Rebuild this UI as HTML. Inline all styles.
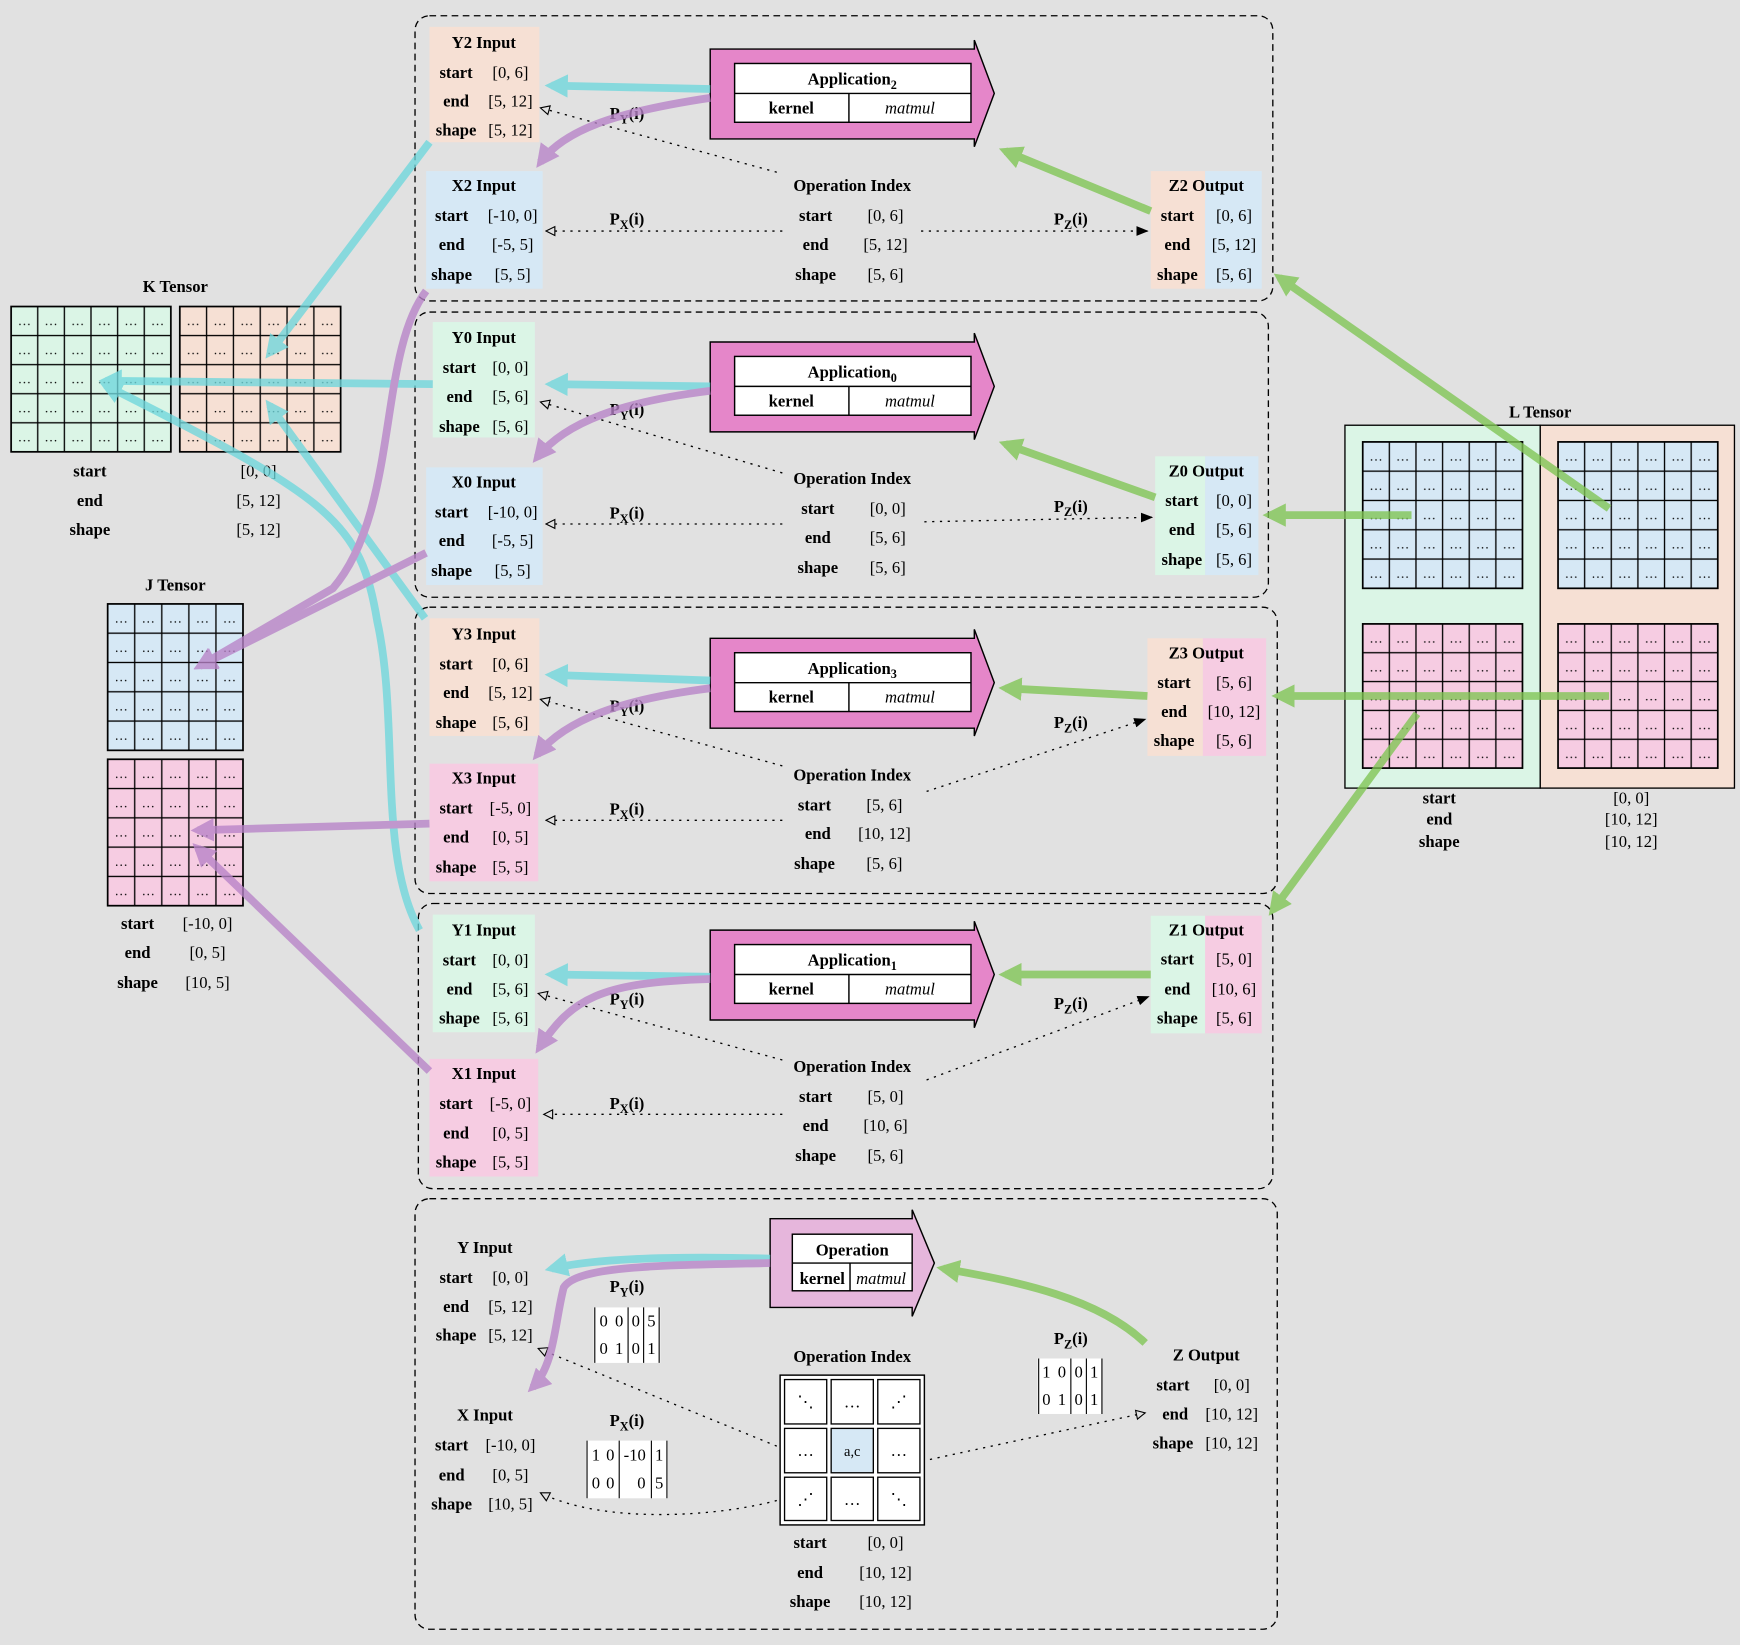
<!DOCTYPE html>
<html><head><meta charset="utf-8"><style>
html,body{margin:0;padding:0;background:#e1e1e1;}
svg{display:block;font-family:"Liberation Serif",serif;}
.b{font-weight:bold;font-size:15px;}
.v{font-size:15px;}
.t{font-weight:bold;font-size:15px;}
.d{font-size:12px;}
</style></head><body>
<svg width="1740" height="1645" viewBox="0 0 1568 1482" xmlns="http://www.w3.org/2000/svg">
<defs>
<marker id="mc" viewBox="0 0 10 10" refX="7" refY="5" markerWidth="3" markerHeight="3" orient="auto"><path d="M0,0 L10,5 L0,10 z" fill="#6fd7dc"/></marker>
<marker id="mp" viewBox="0 0 10 10" refX="7" refY="5" markerWidth="3" markerHeight="3" orient="auto"><path d="M0,0 L10,5 L0,10 z" fill="#b883c8"/></marker>
<marker id="mg" viewBox="0 0 10 10" refX="7" refY="5" markerWidth="3" markerHeight="3" orient="auto"><path d="M0,0 L10,5 L0,10 z" fill="#7fc553"/></marker>
<marker id="mo" viewBox="0 0 10 10" refX="9" refY="5" markerWidth="10" markerHeight="10" markerUnits="userSpaceOnUse" orient="auto"><path d="M1,1 L9,5 L1,9 z" fill="#e1e1e1" stroke="#000" stroke-width="1"/></marker>
<marker id="mb" viewBox="0 0 10 10" refX="9" refY="5" markerWidth="11" markerHeight="11" markerUnits="userSpaceOnUse" orient="auto"><path d="M0,1 L10,5 L0,9 z" fill="#000"/></marker>
<pattern id="pK1" x="10" y="276" width="24" height="26.2" patternUnits="userSpaceOnUse"><rect width="24" height="26.2" fill="none" stroke="#000" stroke-width="1.2"/><text x="12" y="17" font-size="12" text-anchor="middle">…</text></pattern>
<pattern id="pK2" x="162" y="276" width="24.17" height="26.2" patternUnits="userSpaceOnUse"><rect width="24.17" height="26.2" fill="none" stroke="#000" stroke-width="1.2"/><text x="12" y="17" font-size="12" text-anchor="middle">…</text></pattern>
<pattern id="pJ1" x="97" y="544" width="24.4" height="26.4" patternUnits="userSpaceOnUse"><rect width="24.4" height="26.4" fill="none" stroke="#000" stroke-width="1.2"/><text x="12.2" y="17" font-size="12" text-anchor="middle">…</text></pattern>
<pattern id="pJ2" x="97" y="684" width="24.4" height="26.4" patternUnits="userSpaceOnUse"><rect width="24.4" height="26.4" fill="none" stroke="#000" stroke-width="1.2"/><text x="12.2" y="17" font-size="12" text-anchor="middle">…</text></pattern>
<pattern id="pL1" x="1228" y="398" width="24" height="26.4" patternUnits="userSpaceOnUse"><rect width="24" height="26.4" fill="none" stroke="#000" stroke-width="1.2"/><text x="12" y="17" font-size="12" text-anchor="middle">…</text></pattern>
<pattern id="pL2" x="1404" y="398" width="24" height="26.4" patternUnits="userSpaceOnUse"><rect width="24" height="26.4" fill="none" stroke="#000" stroke-width="1.2"/><text x="12" y="17" font-size="12" text-anchor="middle">…</text></pattern>
<pattern id="pL3" x="1228" y="562" width="24" height="26" patternUnits="userSpaceOnUse"><rect width="24" height="26" fill="none" stroke="#000" stroke-width="1.2"/><text x="12" y="17" font-size="12" text-anchor="middle">…</text></pattern>
<pattern id="pL4" x="1404" y="562" width="24" height="26" patternUnits="userSpaceOnUse"><rect width="24" height="26" fill="none" stroke="#000" stroke-width="1.2"/><text x="12" y="17" font-size="12" text-anchor="middle">…</text></pattern>
</defs>
<rect width="1568" height="1482" fill="#e1e1e1"/>

<!-- panels -->
<g fill="none" stroke="#000" stroke-width="1.2" stroke-dasharray="6,4">
<rect x="374" y="14" width="773" height="257" rx="13"/>
<rect x="374" y="281" width="769" height="257" rx="13"/>
<rect x="374" y="547" width="777" height="258" rx="13"/>
<rect x="377" y="814" width="770" height="257" rx="13"/>
<rect x="374" y="1080" width="777" height="388" rx="13"/>
</g>

<!-- K tensor -->
<text class="t" x="158" y="263" text-anchor="middle">K Tensor</text>
<rect x="10" y="276" width="144" height="131" fill="#dbf5e6"/>
<rect x="10" y="276" width="144" height="131" fill="url(#pK1)" stroke="#000" stroke-width="1.5"/>
<rect x="162" y="276" width="145" height="131" fill="#f6e0d4"/>
<rect x="162" y="276" width="145" height="131" fill="url(#pK2)" stroke="#000" stroke-width="1.5"/>
<g text-anchor="middle"><text class="b" x="81" y="429">start</text><text class="b" x="81" y="456">end</text><text class="b" x="81" y="482">shape</text>
<text class="v" x="233" y="429">[0, 0]</text><text class="v" x="233" y="456">[5, 12]</text><text class="v" x="233" y="482">[5, 12]</text></g>

<!-- J tensor -->
<text class="t" x="158" y="532" text-anchor="middle">J Tensor</text>
<rect x="97" y="544" width="122" height="132" fill="#d6e8f5"/>
<rect x="97" y="544" width="122" height="132" fill="url(#pJ1)" stroke="#000" stroke-width="1.5"/>
<rect x="97" y="684" width="122" height="132" fill="#f6cce2"/>
<rect x="97" y="684" width="122" height="132" fill="url(#pJ2)" stroke="#000" stroke-width="1.5"/>
<g text-anchor="middle"><text class="b" x="124" y="837">start</text><text class="b" x="124" y="863">end</text><text class="b" x="124" y="890">shape</text>
<text class="v" x="187" y="837">[-10, 0]</text><text class="v" x="187" y="863">[0, 5]</text><text class="v" x="187" y="890">[10, 5]</text></g>

<!-- L tensor -->
<text class="t" x="1388" y="376" text-anchor="middle">L Tensor</text>
<rect x="1212" y="383" width="176" height="327" fill="#dbf5e6" stroke="#000" stroke-width="1.2"/>
<rect x="1388" y="383" width="175" height="327" fill="#f6e0d4" stroke="#000" stroke-width="1.2"/>
<rect x="1228" y="398" width="144" height="132" fill="#d6e8f5"/>
<rect x="1228" y="398" width="144" height="132" fill="url(#pL1)" stroke="#000" stroke-width="1.5"/>
<rect x="1404" y="398" width="144" height="132" fill="#d6e8f5"/>
<rect x="1404" y="398" width="144" height="132" fill="url(#pL2)" stroke="#000" stroke-width="1.5"/>
<rect x="1228" y="562" width="144" height="130" fill="#f6cce2"/>
<rect x="1228" y="562" width="144" height="130" fill="url(#pL3)" stroke="#000" stroke-width="1.5"/>
<rect x="1404" y="562" width="144" height="130" fill="#f6cce2"/>
<rect x="1404" y="562" width="144" height="130" fill="url(#pL4)" stroke="#000" stroke-width="1.5"/>
<g text-anchor="middle"><text class="b" x="1297" y="724">start</text><text class="b" x="1297" y="743">end</text><text class="b" x="1297" y="763">shape</text>
<text class="v" x="1470" y="724">[0, 0]</text><text class="v" x="1470" y="743">[10, 12]</text><text class="v" x="1470" y="763">[10, 12]</text></g>

<!-- P2 -->
<g>
<rect x="387" y="24" width="99" height="104" fill="#f6e0d4"/>
<g text-anchor="middle"><text class="b" x="436" y="43">Y2 Input</text>
<text class="b" x="411" y="70">start</text><text class="b" x="411" y="96">end</text><text class="b" x="411" y="122">shape</text>
<text class="v" x="460" y="70">[0, 6]</text><text class="v" x="460" y="96">[5, 12]</text><text class="v" x="460" y="122">[5, 12]</text></g>
<rect x="384" y="154" width="105" height="106" fill="#d6e8f5"/>
<g text-anchor="middle"><text class="b" x="436" y="172">X2 Input</text>
<text class="b" x="407" y="199">start</text><text class="b" x="407" y="225">end</text><text class="b" x="407" y="252">shape</text>
<text class="v" x="462" y="199">[-10, 0]</text><text class="v" x="462" y="225">[-5, 5]</text><text class="v" x="462" y="252">[5, 5]</text></g>
<rect x="1037" y="154" width="49" height="106" fill="#f6e0d4"/><rect x="1086" y="154" width="51" height="106" fill="#d6e8f5"/>
<g text-anchor="middle"><text class="b" x="1087" y="172">Z2 Output</text>
<text class="b" x="1061" y="199">start</text><text class="b" x="1061" y="225">end</text><text class="b" x="1061" y="252">shape</text>
<text class="v" x="1112" y="199">[0, 6]</text><text class="v" x="1112" y="225">[5, 12]</text><text class="v" x="1112" y="252">[5, 6]</text>
<text class="b" x="768" y="172">Operation Index</text>
<text class="b" x="735" y="199">start</text><text class="b" x="735" y="225">end</text><text class="b" x="735" y="252">shape</text>
<text class="v" x="798" y="199">[0, 6]</text><text class="v" x="798" y="225">[5, 12]</text><text class="v" x="798" y="252">[5, 6]</text></g>
<g fill="none" stroke="#000" stroke-width="1.2" stroke-dasharray="2,5">
<path d="M705,208H492" marker-end="url(#mo)"/><path d="M830,208H1034" marker-end="url(#mb)"/><path d="M700,155L487,97" marker-end="url(#mo)"/></g>
<text class="b" x="565" y="107" text-anchor="middle">P<tspan font-size="11" dy="4">Y</tspan><tspan dy="-4">(i)</tspan></text>
<text class="b" x="565" y="202" text-anchor="middle">P<tspan font-size="11" dy="4">X</tspan><tspan dy="-4">(i)</tspan></text>
<text class="b" x="965" y="202" text-anchor="middle">P<tspan font-size="11" dy="4">Z</tspan><tspan dy="-4">(i)</tspan></text>
</g>
<g>
<polygon points="640,44 878,44 878,36 896,84 878,132 878,125 640,125" fill="#e586c9" stroke="#000" stroke-width="1.3"/>
<rect x="662" y="57" width="213" height="53" fill="#fff" stroke="#000" stroke-width="1.3"/>
<path d="M662,84H875M765,84V110" stroke="#000" stroke-width="1.3"/>
<text class="b" x="768" y="76" text-anchor="middle">Application<tspan font-size="11" dy="4">2</tspan></text>
<text class="b" x="713" y="102" text-anchor="middle">kernel</text>
<text class="v" x="820" y="102" text-anchor="middle" font-style="italic">matmul</text>
</g>

<!-- P0 -->
<g>
<rect x="390" y="290" width="92" height="104" fill="#dbf5e6"/>
<g text-anchor="middle"><text class="b" x="436" y="309">Y0 Input</text>
<text class="b" x="414" y="336">start</text><text class="b" x="414" y="362">end</text><text class="b" x="414" y="389">shape</text>
<text class="v" x="460" y="336">[0, 0]</text><text class="v" x="460" y="362">[5, 6]</text><text class="v" x="460" y="389">[5, 6]</text></g>
<rect x="384" y="421" width="105" height="106" fill="#d6e8f5"/>
<g text-anchor="middle"><text class="b" x="436" y="439">X0 Input</text>
<text class="b" x="407" y="466">start</text><text class="b" x="407" y="492">end</text><text class="b" x="407" y="519">shape</text>
<text class="v" x="462" y="466">[-10, 0]</text><text class="v" x="462" y="492">[-5, 5]</text><text class="v" x="462" y="519">[5, 5]</text></g>
<rect x="1041" y="411" width="45" height="107" fill="#dbf5e6"/><rect x="1086" y="411" width="48" height="107" fill="#d6e8f5"/>
<g text-anchor="middle"><text class="b" x="1087" y="429">Z0 Output</text>
<text class="b" x="1065" y="456">start</text><text class="b" x="1065" y="482">end</text><text class="b" x="1065" y="509">shape</text>
<text class="v" x="1112" y="456">[0, 0]</text><text class="v" x="1112" y="482">[5, 6]</text><text class="v" x="1112" y="509">[5, 6]</text>
<text class="b" x="768" y="436">Operation Index</text>
<text class="b" x="737" y="463">start</text><text class="b" x="737" y="489">end</text><text class="b" x="737" y="516">shape</text>
<text class="v" x="800" y="463">[0, 0]</text><text class="v" x="800" y="489">[5, 6]</text><text class="v" x="800" y="516">[5, 6]</text></g>
<g fill="none" stroke="#000" stroke-width="1.2" stroke-dasharray="2,5">
<path d="M705,472H492" marker-end="url(#mo)"/><path d="M833,470L1038,466" marker-end="url(#mb)"/><path d="M705,426L487,362" marker-end="url(#mo)"/></g>
<text class="b" x="565" y="374" text-anchor="middle">P<tspan font-size="11" dy="4">Y</tspan><tspan dy="-4">(i)</tspan></text>
<text class="b" x="565" y="467" text-anchor="middle">P<tspan font-size="11" dy="4">X</tspan><tspan dy="-4">(i)</tspan></text>
<text class="b" x="965" y="461" text-anchor="middle">P<tspan font-size="11" dy="4">Z</tspan><tspan dy="-4">(i)</tspan></text>
<g transform="translate(0,264)">
<polygon points="640,44 878,44 878,36 896,84 878,132 878,125 640,125" fill="#e586c9" stroke="#000" stroke-width="1.3"/>
<rect x="662" y="57" width="213" height="53" fill="#fff" stroke="#000" stroke-width="1.3"/>
<path d="M662,84H875M765,84V110" stroke="#000" stroke-width="1.3"/>
<text class="b" x="768" y="76" text-anchor="middle">Application<tspan font-size="11" dy="4">0</tspan></text>
<text class="b" x="713" y="102" text-anchor="middle">kernel</text>
<text class="v" x="820" y="102" text-anchor="middle" font-style="italic">matmul</text>
</g>
</g>

<!-- P3 -->
<g>
<rect x="387" y="557" width="99" height="106" fill="#f6e0d4"/>
<g text-anchor="middle"><text class="b" x="436" y="576">Y3 Input</text>
<text class="b" x="411" y="603">start</text><text class="b" x="411" y="629">end</text><text class="b" x="411" y="656">shape</text>
<text class="v" x="460" y="603">[0, 6]</text><text class="v" x="460" y="629">[5, 12]</text><text class="v" x="460" y="656">[5, 6]</text></g>
<rect x="387" y="688" width="98" height="106" fill="#f6cce2"/>
<g text-anchor="middle"><text class="b" x="436" y="706">X3 Input</text>
<text class="b" x="411" y="733">start</text><text class="b" x="411" y="759">end</text><text class="b" x="411" y="786">shape</text>
<text class="v" x="460" y="733">[-5, 0]</text><text class="v" x="460" y="759">[0, 5]</text><text class="v" x="460" y="786">[5, 5]</text></g>
<rect x="1034" y="575" width="50" height="106" fill="#f6e0d4"/><rect x="1084" y="575" width="57" height="106" fill="#f6cce2"/>
<g text-anchor="middle"><text class="b" x="1087" y="593">Z3 Output</text>
<text class="b" x="1058" y="620">start</text><text class="b" x="1058" y="646">end</text><text class="b" x="1058" y="672">shape</text>
<text class="v" x="1112" y="620">[5, 6]</text><text class="v" x="1112" y="646">[10, 12]</text><text class="v" x="1112" y="672">[5, 6]</text>
<text class="b" x="768" y="703">Operation Index</text>
<text class="b" x="734" y="730">start</text><text class="b" x="737" y="756">end</text><text class="b" x="734" y="783">shape</text>
<text class="v" x="797" y="730">[5, 6]</text><text class="v" x="797" y="756">[10, 12]</text><text class="v" x="797" y="783">[5, 6]</text></g>
<g fill="none" stroke="#000" stroke-width="1.2" stroke-dasharray="2,5">
<path d="M705,739H492" marker-end="url(#mo)"/><path d="M835,713L1032,648" marker-end="url(#mb)"/><path d="M705,690L487,630" marker-end="url(#mo)"/></g>
<text class="b" x="565" y="641" text-anchor="middle">P<tspan font-size="11" dy="4">Y</tspan><tspan dy="-4">(i)</tspan></text>
<text class="b" x="565" y="734" text-anchor="middle">P<tspan font-size="11" dy="4">X</tspan><tspan dy="-4">(i)</tspan></text>
<text class="b" x="965" y="656" text-anchor="middle">P<tspan font-size="11" dy="4">Z</tspan><tspan dy="-4">(i)</tspan></text>
<g transform="translate(0,531)">
<polygon points="640,44 878,44 878,36 896,84 878,132 878,125 640,125" fill="#e586c9" stroke="#000" stroke-width="1.3"/>
<rect x="662" y="57" width="213" height="53" fill="#fff" stroke="#000" stroke-width="1.3"/>
<path d="M662,84H875M765,84V110" stroke="#000" stroke-width="1.3"/>
<text class="b" x="768" y="76" text-anchor="middle">Application<tspan font-size="11" dy="4">3</tspan></text>
<text class="b" x="713" y="102" text-anchor="middle">kernel</text>
<text class="v" x="820" y="102" text-anchor="middle" font-style="italic">matmul</text>
</g>
</g>

<!-- P1 -->
<g>
<rect x="390" y="824" width="92" height="106" fill="#dbf5e6"/>
<g text-anchor="middle"><text class="b" x="436" y="843">Y1 Input</text>
<text class="b" x="414" y="870">start</text><text class="b" x="414" y="896">end</text><text class="b" x="414" y="922">shape</text>
<text class="v" x="460" y="870">[0, 0]</text><text class="v" x="460" y="896">[5, 6]</text><text class="v" x="460" y="922">[5, 6]</text></g>
<rect x="387" y="954" width="98" height="106" fill="#f6cce2"/>
<g text-anchor="middle"><text class="b" x="436" y="972">X1 Input</text>
<text class="b" x="411" y="999">start</text><text class="b" x="411" y="1026">end</text><text class="b" x="411" y="1052">shape</text>
<text class="v" x="460" y="999">[-5, 0]</text><text class="v" x="460" y="1026">[0, 5]</text><text class="v" x="460" y="1052">[5, 5]</text></g>
<rect x="1037" y="825" width="49" height="106" fill="#dbf5e6"/><rect x="1086" y="825" width="51" height="106" fill="#f6cce2"/>
<g text-anchor="middle"><text class="b" x="1087" y="843">Z1 Output</text>
<text class="b" x="1061" y="869">start</text><text class="b" x="1061" y="896">end</text><text class="b" x="1061" y="922">shape</text>
<text class="v" x="1112" y="869">[5, 0]</text><text class="v" x="1112" y="896">[10, 6]</text><text class="v" x="1112" y="922">[5, 6]</text>
<text class="b" x="768" y="966">Operation Index</text>
<text class="b" x="735" y="993">start</text><text class="b" x="735" y="1019">end</text><text class="b" x="735" y="1046">shape</text>
<text class="v" x="798" y="993">[5, 0]</text><text class="v" x="798" y="1019">[10, 6]</text><text class="v" x="798" y="1046">[5, 6]</text></g>
<g fill="none" stroke="#000" stroke-width="1.2" stroke-dasharray="2,5">
<path d="M705,1004H490" marker-end="url(#mo)"/><path d="M835,973L1035,898" marker-end="url(#mb)"/><path d="M705,955L485,895" marker-end="url(#mo)"/></g>
<text class="b" x="565" y="905" text-anchor="middle">P<tspan font-size="11" dy="4">Y</tspan><tspan dy="-4">(i)</tspan></text>
<text class="b" x="565" y="999" text-anchor="middle">P<tspan font-size="11" dy="4">X</tspan><tspan dy="-4">(i)</tspan></text>
<text class="b" x="965" y="909" text-anchor="middle">P<tspan font-size="11" dy="4">Z</tspan><tspan dy="-4">(i)</tspan></text>
<g transform="translate(0,794)">
<polygon points="640,44 878,44 878,36 896,84 878,132 878,125 640,125" fill="#e586c9" stroke="#000" stroke-width="1.3"/>
<rect x="662" y="57" width="213" height="53" fill="#fff" stroke="#000" stroke-width="1.3"/>
<path d="M662,84H875M765,84V110" stroke="#000" stroke-width="1.3"/>
<text class="b" x="768" y="76" text-anchor="middle">Application<tspan font-size="11" dy="4">1</tspan></text>
<text class="b" x="713" y="102" text-anchor="middle">kernel</text>
<text class="v" x="820" y="102" text-anchor="middle" font-style="italic">matmul</text>
</g>
</g>

<!-- Operation panel -->
<g text-anchor="middle">
<text class="b" x="437" y="1129">Y Input</text>
<text class="b" x="411" y="1156">start</text><text class="b" x="411" y="1182">end</text><text class="b" x="411" y="1208">shape</text>
<text class="v" x="460" y="1156">[0, 0]</text><text class="v" x="460" y="1182">[5, 12]</text><text class="v" x="460" y="1208">[5, 12]</text>
<text class="b" x="437" y="1280">X Input</text>
<text class="b" x="407" y="1307">start</text><text class="b" x="407" y="1334">end</text><text class="b" x="407" y="1360">shape</text>
<text class="v" x="460" y="1307">[-10, 0]</text><text class="v" x="460" y="1334">[0, 5]</text><text class="v" x="460" y="1360">[10, 5]</text>
<text class="b" x="1087" y="1226">Z Output</text>
<text class="b" x="1057" y="1253">start</text><text class="b" x="1059" y="1279">end</text><text class="b" x="1057" y="1305">shape</text>
<text class="v" x="1110" y="1253">[0, 0]</text><text class="v" x="1110" y="1279">[10, 12]</text><text class="v" x="1110" y="1305">[10, 12]</text>
<text class="b" x="768" y="1227">Operation Index</text>
<text class="b" x="730" y="1395">start</text><text class="b" x="730" y="1422">end</text><text class="b" x="730" y="1448">shape</text>
<text class="v" x="798" y="1395">[0, 0]</text><text class="v" x="798" y="1422">[10, 12]</text><text class="v" x="798" y="1448">[10, 12]</text>
</g>
<polygon points="694,1098 822,1098 822,1090 842,1138 822,1186 822,1178 694,1178" fill="#e6b6dc" stroke="#000" stroke-width="1.3"/>
<rect x="714" y="1112" width="108" height="51" fill="#fff" stroke="#000" stroke-width="1.3"/>
<path d="M714,1138H822M766,1138V1163" stroke="#000" stroke-width="1.3"/>
<text class="b" x="768" y="1131" text-anchor="middle">Operation</text>
<text class="b" x="741" y="1157" text-anchor="middle">kernel</text>
<text class="v" x="794" y="1157" text-anchor="middle" font-style="italic">matmul</text>

<rect x="703" y="1239" width="130" height="135" fill="#fff" stroke="#000" stroke-width="1.3"/>
<g fill="#fff" stroke="#000" stroke-width="1.2">
<rect x="707" y="1243" width="38" height="40"/><rect x="749" y="1243" width="38" height="40"/><rect x="791" y="1243" width="38" height="40"/>
<rect x="707" y="1287" width="38" height="40"/><rect x="749" y="1287" width="38" height="40" fill="#d6e8f5"/><rect x="791" y="1287" width="38" height="40"/>
<rect x="707" y="1331" width="38" height="39"/><rect x="749" y="1331" width="38" height="39"/><rect x="791" y="1331" width="38" height="39"/>
</g>
<g class="v" text-anchor="middle" font-size="14">
<text x="726" y="1268">⋱</text><text x="768" y="1268">…</text><text x="810" y="1268">⋰</text>
<text x="726" y="1312">…</text><text x="768" y="1312" font-size="13">a,c</text><text x="810" y="1312">…</text>
<text x="726" y="1356">⋰</text><text x="768" y="1356">…</text><text x="810" y="1356">⋱</text>
</g>

<text class="b" x="565" y="1164" text-anchor="middle">P<tspan font-size="11" dy="4">Y</tspan><tspan dy="-4">(i)</tspan></text>
<rect x="535" y="1178" width="60" height="50" fill="#fff"/>
<path d="M536,1178V1228M566,1178V1228M580,1178V1228M594,1178V1228" stroke="#000" stroke-width="1"/>
<g class="v" font-size="13" text-anchor="middle"><text x="544" y="1195">0</text><text x="558" y="1195">0</text><text x="573" y="1195">0</text><text x="587" y="1195">5</text>
<text x="544" y="1220">0</text><text x="558" y="1220">1</text><text x="573" y="1220">0</text><text x="587" y="1220">1</text></g>
<text class="b" x="565" y="1285" text-anchor="middle">P<tspan font-size="11" dy="4">X</tspan><tspan dy="-4">(i)</tspan></text>
<rect x="528" y="1298" width="74" height="52" fill="#fff"/>
<path d="M529,1298V1350M558,1298V1350M587,1298V1350M601,1298V1350" stroke="#000" stroke-width="1"/>
<g class="v" font-size="13" text-anchor="middle"><text x="537" y="1316">1</text><text x="550" y="1316">0</text><text x="572" y="1316">-10</text><text x="594" y="1316">1</text>
<text x="537" y="1341">0</text><text x="550" y="1341">0</text><text x="578" y="1341">0</text><text x="594" y="1341">5</text></g>
<text class="b" x="965" y="1211" text-anchor="middle">P<tspan font-size="11" dy="4">Z</tspan><tspan dy="-4">(i)</tspan></text>
<rect x="935" y="1224" width="58" height="50" fill="#fff"/>
<path d="M936,1224V1274M965,1224V1274M979,1224V1274M993,1224V1274" stroke="#000" stroke-width="1"/>
<g class="v" font-size="13" text-anchor="middle"><text x="943" y="1241">1</text><text x="957" y="1241">0</text><text x="972" y="1241">0</text><text x="986" y="1241">1</text>
<text x="943" y="1266">0</text><text x="957" y="1266">1</text><text x="972" y="1266">0</text><text x="986" y="1266">1</text></g>
<g fill="none" stroke="#000" stroke-width="1.2" stroke-dasharray="2,5">
<path d="M700,1303L485,1215" marker-end="url(#mo)"/>
<path d="M700,1352C640,1368 540,1372 487,1345" marker-end="url(#mo)"/>
<path d="M838,1315L1032,1273" marker-end="url(#mo)"/></g>

<!-- thick arrows -->
<g fill="none" stroke-width="7" stroke-linecap="butt" opacity="0.78">
<g stroke="#6fd7dc">
<path d="M640,80L497,77" marker-end="url(#mc)"/>
<path d="M640,348L497,346" marker-end="url(#mc)"/>
<path d="M640,613L497,608" marker-end="url(#mc)"/>
<path d="M640,880L497,878" marker-end="url(#mc)"/>
<path d="M694,1134C620,1132 540,1133 497,1143" marker-end="url(#mc)"/>
<path d="M387,128L243,318" marker-end="url(#mc)"/>
<path d="M390,346L95,343" marker-end="url(#mc)"/>
<path d="M383,557L243,365" marker-end="url(#mc)"/>
<path d="M378,838C340,770 360,650 340,560 C325,470 300,450 95,347" marker-end="url(#mc)"/>
</g>
<g stroke="#b883c8">
<path d="M640,88C560,100 510,115 487,146" marker-end="url(#mp)"/>
<path d="M640,352C560,362 510,380 484,412" marker-end="url(#mp)"/>
<path d="M640,620C560,630 510,648 484,680" marker-end="url(#mp)"/>
<path d="M640,882C540,885 515,900 486,944" marker-end="url(#mp)"/>
<path d="M694,1138C600,1140 520,1140 508,1160 C500,1190 500,1230 480,1250" marker-end="url(#mp)"/>
<path d="M384,262C340,320 360,460 300,530 L180,600" marker-end="url(#mp)"/>
<path d="M384,498L180,600" marker-end="url(#mp)"/>
<path d="M387,742L178,748" marker-end="url(#mp)"/>
<path d="M387,965L178,764" marker-end="url(#mp)"/>
</g>
<g stroke="#7fc553">
<path d="M1037,190L906,136" marker-end="url(#mg)"/>
<path d="M1041,448L906,400" marker-end="url(#mg)"/>
<path d="M1034,627L906,620" marker-end="url(#mg)"/>
<path d="M1037,878L906,878" marker-end="url(#mg)"/>
<path d="M1032,1210C990,1170 920,1155 850,1143" marker-end="url(#mg)"/>
<path d="M1450,458L1153,250" marker-end="url(#mg)"/>
<path d="M1272,464L1144,464" marker-end="url(#mg)"/>
<path d="M1450,627L1152,627" marker-end="url(#mg)"/>
<path d="M1277,643L1147,820" marker-end="url(#mg)"/>
</g>
</g>
</svg>
</body></html>
